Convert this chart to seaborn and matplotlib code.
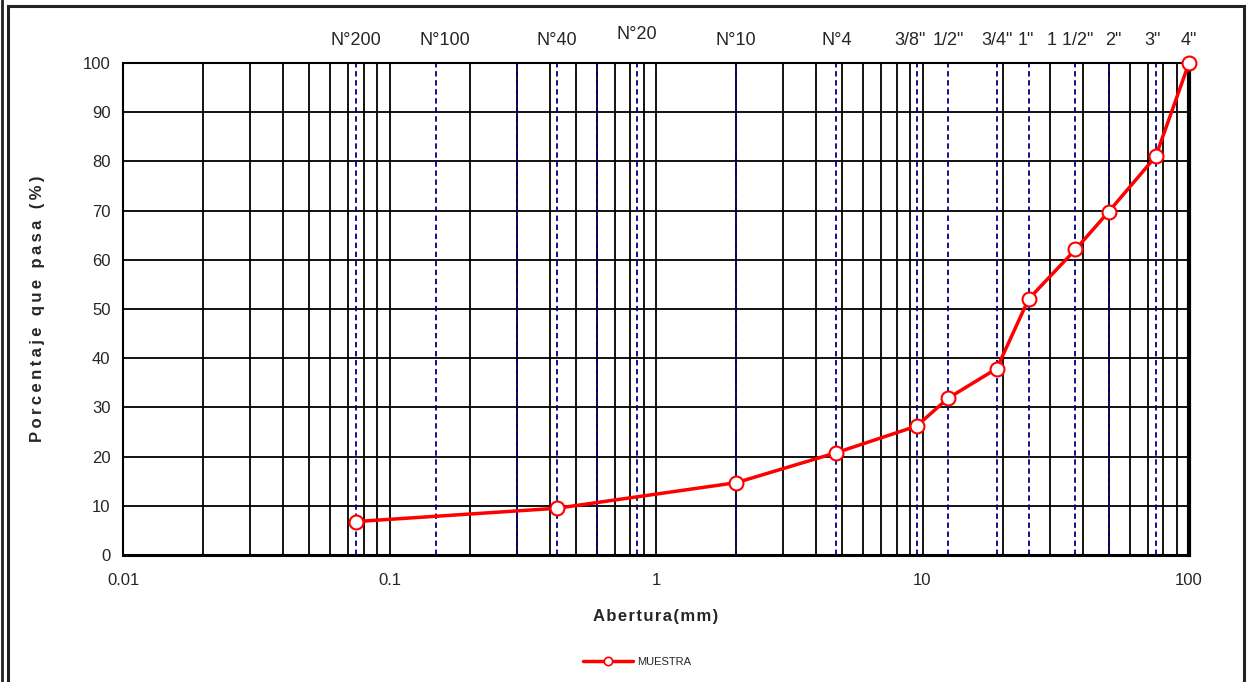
import matplotlib
matplotlib.use("Agg")
import matplotlib.pyplot as plt
import matplotlib.ticker as mticker
import matplotlib.transforms as mtransforms
from matplotlib.patches import Rectangle
from matplotlib.lines import Line2D
import numpy as np
import pandas as pd
import seaborn as sns

# sample gradation (opening in mm, percent passing)
abertura = [0.075, 0.425, 2.0, 4.75, 9.5, 12.5, 19.0, 25.0, 37.5, 50.0, 75.0, 100.0]
pasa = [6.8, 9.5, 14.7, 20.8, 26.2, 31.9, 37.9, 52.0, 62.1, 69.8, 81.0, 100.0]

# sieve reference lines
tamices = [0.075, 0.15, 0.3, 0.425, 0.6, 0.85, 2.0, 4.75, 9.5, 12.5, 19.0, 25.0, 37.5, 50.0, 75.0, 100.0]
tamiz_labels = ["N°200", "N°100", "", "N°40", "", "N°20", "N°10", "N°4", "3/8\"", "1/2\"",
                "3/4\"", "1\"", "1 1/2\"", "2\"", "3\"", "4\""]

df = pd.DataFrame({"abertura": abertura, "pasa": pasa})

sns.set_style("white")
plt.rcParams["font.family"] = ["Liberation Sans", "DejaVu Sans"]

fig = plt.figure(figsize=(12.51, 6.82), dpi=100)
ax = fig.add_axes([123 / 1251, 127 / 682, 1066 / 1251, 492 / 682])

ax.set_xscale("log")
ax.set_xlim(0.01, 100)
ax.set_ylim(0, 100)
ax.set_yticks(np.arange(0, 101, 10))
ax.xaxis.set_major_locator(mticker.LogLocator(base=10, numticks=10))
ax.xaxis.set_minor_locator(mticker.LogLocator(base=10, subs=np.arange(2, 10), numticks=20))
ax.xaxis.set_major_formatter(mticker.FuncFormatter(lambda v, p: f"{v:g}"))
ax.xaxis.set_minor_formatter(mticker.NullFormatter())

ax.grid(True, which="both", axis="x", color="black", linewidth=1.3)
ax.grid(True, which="major", axis="y", color="black", linewidth=1.3)
ax.set_axisbelow(True)

for t in tamices:
    ax.axvline(t, color="#000080", linestyle=(0, (3, 2)), linewidth=1.3, zorder=1.5)

sns.lineplot(data=df, x="abertura", y="pasa", ax=ax, color="red", linewidth=2.5,
             marker="o", markersize=10, markerfacecolor="white", markeredgecolor="red",
             markeredgewidth=1.5, zorder=5, legend=False, clip_on=False)

# small nudges (pixels) so the crowded sieve names don't collide
nudge = {"N°100": 8, "3/8\"": -7, "1\"": -3, "1 1/2\"": -5, "2\"": 5, "3\"": -3}
trans = mtransforms.blended_transform_factory(ax.transData, ax.transAxes)
for t, lab in zip(tamices, tamiz_labels):
    if not lab:
        continue
    yy = 1.058 if lab == "N°20" else 1.046
    tr = trans + mtransforms.ScaledTranslation(nudge.get(lab, 0) / 100, 0, fig.dpi_scale_trans)
    ax.text(t, yy, lab, transform=tr, ha="center", va="center", fontsize=13)

for side in ["left", "top", "bottom", "right"]:
    ax.spines[side].set_color("black")
ax.spines["left"].set_linewidth(1.5)
ax.spines["top"].set_linewidth(1.5)
ax.spines["bottom"].set_linewidth(2.2)
ax.spines["right"].set_linewidth(3)

ax.tick_params(axis="y", which="major", direction="inout", length=10, width=1.2, labelsize=12, pad=4)
ax.tick_params(axis="x", which="major", direction="out", length=6, width=1.2, labelsize=12, pad=7)
ax.tick_params(axis="x", which="minor", length=0)

ax.set_xlabel("\u200a".join("Abertura(mm)"), fontsize=12, fontweight="bold", labelpad=15)
ax.set_ylabel("\u2009".join("Porcentaje que pasa (%)"), fontsize=12, fontweight="bold", labelpad=27)

handle = Line2D([], [], color="red", linewidth=2.5, marker="o", markersize=6,
                markerfacecolor="white", markeredgecolor="red", markeredgewidth=1.2)
fig.legend([handle], ["MUESTRA"], loc="center", bbox_to_anchor=(637 / 1251, 1 - 662 / 682),
           frameon=False, fontsize=8, handlelength=4.5, handletextpad=0.3)

# figure frame (double line on left)
fig.add_artist(Rectangle((8 / 1251, -0.05), (1244 - 8) / 1251, 1.05 - 6 / 682,
                         transform=fig.transFigure, fill=False, edgecolor="#222222", linewidth=2.2))
fig.add_artist(Line2D([1.5 / 1251, 1.5 / 1251], [0, 1], transform=fig.transFigure,
                      color="#222222", linewidth=2))

fig.savefig("out.png", dpi=100)
